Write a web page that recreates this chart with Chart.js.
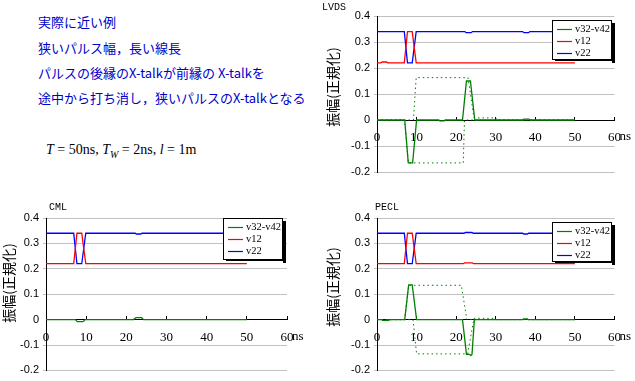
<!DOCTYPE html>
<html lang="ja">
<head>
<meta charset="utf-8">
<script src="https://cdn.jsdelivr.net/npm/chart.js@4.4.0/dist/chart.umd.min.js"></script>
<style>
  html, body { margin: 0; padding: 0; background: #fff; }
  body { width: 635px; height: 381px; position: relative; overflow: hidden; }
  .memo { position: absolute; left: 38px; color: #0000c8; font-size: 13px; font-family: "Noto Sans CJK JP"; white-space: nowrap; line-height: 16px; }
  .formula { position: absolute; left: 46px; top: 142px; font-size: 14px; font-family: "Liberation Serif"; white-space: nowrap; }
  .formula sub { font-size: 10px; }
  .box { position: absolute; }
</style>
</head>
<body>
<div class="memo" style="top:14px">実際に近い例</div>
<div class="memo" style="top:40px">狭いパルス幅，長い線長</div>
<div class="memo" style="top:65px">パルスの後縁のX-talkが前縁の X-talkを</div>
<div class="memo" style="top:90px">途中から打ち消し，狭いパルスのX-talkとなる</div>
<div class="formula"><i>T</i> = 50ns, <i>T<sub>W</sub></i> = 2ns, <i>l</i> = 1m</div>

<div class="box" style="left:320px;top:0;width:315px;height:190px"><canvas id="chartLVDS"></canvas></div>
<div class="box" style="left:0;top:190px;width:315px;height:191px"><canvas id="chartCML"></canvas></div>
<div class="box" style="left:320px;top:190px;width:315px;height:191px"><canvas id="chartPECL"></canvas></div>

<script>
// Ejes y etiquetas
const xTickVals = [0, 10, 20, 30, 40, 50, 60];
const xTickLabels = ['0', '10', '20', '30', '40', '50', '60'];
const yTickVals = [-0.2, -0.1, 0, 0.1, 0.2, 0.3, 0.4];
const yTickLabels = ['-0.2', '-0.1', '0', '0.1', '0.2', '0.3', '0.4'];
const legendLabels = ['v32-v42', 'v12', 'v22'];
const yTitle = '振幅(正規化)';

// LVDS
const lvdsDiffT = [0, 7.0, 7.9, 9.0, 10.0, 15.6, 15.8, 17.0, 17.2, 21.6, 22.6, 23.6, 24.7, 36.9, 37.1, 38.4, 38.6, 50];
const lvdsDiffY = [0, 0, -0.165, -0.165, 0, 0, -0.003, -0.003, 0, 0, 0.15, 0.15, 0, 0, 0.003, 0.003, 0, 0];
const lvdsV12T = [0, 1.0, 1.3, 2.4, 2.7, 6.9, 7.7, 8.9, 9.9, 50];
const lvdsV12Y = [0.22, 0.22, 0.223, 0.223, 0.22, 0.22, 0.34, 0.34, 0.22, 0.22];
const lvdsV22T = [0, 6.9, 7.7, 8.9, 9.9, 22.2, 22.5, 23.8, 24.1, 36.8, 37.1, 38.3, 38.6, 50];
const lvdsV22Y = [0.34, 0.34, 0.22, 0.22, 0.34, 0.34, 0.336, 0.336, 0.34, 0.34, 0.336, 0.336, 0.34, 0.34];
const lvdsDotAT = [0, 7.0, 7.9, 21.8, 22.1, 50];
const lvdsDotAY = [0, 0, -0.165, -0.165, 0, 0];
const lvdsDotBT = [0, 9.2, 9.9, 23.0, 24.5, 30.0, 30.3, 50];
const lvdsDotBY = [0, 0, 0.163, 0.163, 0.008, 0.008, 0, 0];

// CML
const cmlDiffT = [0, 7.3, 7.8, 9.2, 9.8, 21.8, 22.4, 23.8, 24.3, 50];
const cmlDiffY = [0, 0, -0.008, -0.008, 0, 0, 0.008, 0.008, 0, 0];
const cmlV12T = [0, 6.9, 7.7, 8.9, 9.9, 50];
const cmlV12Y = [0.22, 0.22, 0.34, 0.34, 0.22, 0.22];
const cmlV22T = [0, 6.9, 7.7, 8.9, 9.9, 22.2, 22.5, 23.6, 23.9, 50];
const cmlV22Y = [0.34, 0.34, 0.22, 0.22, 0.34, 0.34, 0.337, 0.337, 0.34, 0.34];

// PECL
const peclDiffT = [0, 1.2, 1.4, 2.8, 3.0, 7.0, 8.0, 8.9, 10.0, 21.6, 22.6, 23.4, 23.7, 24.0, 24.6, 36.8, 37.0, 38.0, 38.2, 50];
const peclDiffY = [0, 0, -0.003, -0.003, 0, 0, 0.137, 0.137, 0, 0, -0.137, -0.137, -0.142, -0.137, 0, 0, 0.003, 0.003, 0, 0];
const peclV12T = [0, 6.9, 7.7, 8.9, 9.9, 21.8, 22.1, 24.1, 24.4, 50];
const peclV12Y = [0.22, 0.22, 0.34, 0.34, 0.22, 0.22, 0.223, 0.223, 0.22, 0.22];
const peclV22T = [0, 6.9, 7.7, 8.9, 9.9, 22.0, 22.3, 24.0, 24.3, 36.8, 37.1, 38.0, 38.3, 50];
const peclV22Y = [0.34, 0.34, 0.22, 0.22, 0.34, 0.34, 0.343, 0.343, 0.34, 0.34, 0.337, 0.337, 0.34, 0.34];
const peclDotAT = [0, 7.0, 8.0, 21.3, 22.7, 50];
const peclDotAY = [0, 0, 0.135, 0.135, 0, 0];
const peclDotBT = [0, 9.1, 10.0, 22.9, 24.5, 29.5, 29.8, 50];
const peclDotBY = [0, 0, -0.135, -0.135, 0.005, 0.005, 0, 0];

const GREEN = '#008000';
const RED = '#ff0000';
const BLUE = '#0000ff';
const GRID = '#c0c0c0';
const legendColors = [GREEN, RED, BLUE];

function puntos(t, v) {
    return t.map((x, i) => ({ x: x, y: v[i] }));
}

// Título, etiqueta del eje Y, "ns" y leyenda con sombra
const decorPlugin = {
    id: 'decor',
    afterDraw(chart, args, opts) {
        const ctx = chart.ctx;
        const xs = chart.scales.x;
        const ys = chart.scales.y;
        ctx.save();
        ctx.setLineDash([]);
        ctx.fillStyle = '#000';
        ctx.textBaseline = 'middle';
        ctx.textAlign = 'left';
        ctx.font = '10px "Liberation Mono"';
        ctx.fillText(opts.title, opts.titleX, opts.titleY);

        ctx.font = '13px "Liberation Serif"';
        ctx.fillText('ns', xs.getPixelForValue(60) + 5, ys.getPixelForValue(0) + 17);

        ctx.save();
        ctx.translate(opts.yTitleX, opts.yTitleY);
        ctx.rotate(-Math.PI / 2);
        ctx.textAlign = 'center';
        ctx.font = '14px "Noto Sans CJK JP"';
        ctx.fillText(yTitle, 0, 0);
        ctx.restore();

        // leyenda
        const lg = opts.legend;
        ctx.fillStyle = '#000';
        ctx.fillRect(lg.x + lg.w, lg.y + 3, 3, lg.h);
        ctx.fillRect(lg.x + 3, lg.y + lg.h, lg.w, 1);
        ctx.fillStyle = '#fff';
        ctx.fillRect(lg.x, lg.y, lg.w, lg.h);
        ctx.strokeStyle = '#000';
        ctx.lineWidth = 1;
        ctx.strokeRect(lg.x + 0.5, lg.y + 0.5, lg.w - 1, lg.h - 1);
        ctx.font = '10.5px "Liberation Serif"';
        legendLabels.forEach((label, i) => {
            const y = Math.round(lg.y + 9 + i * 12) + 0.5;
            ctx.strokeStyle = legendColors[i];
            ctx.lineWidth = 1.2;
            ctx.beginPath();
            ctx.moveTo(lg.x + 5, y);
            ctx.lineTo(lg.x + 20, y);
            ctx.stroke();
            ctx.fillStyle = '#000';
            ctx.fillText(label, lg.x + 23, y);
        });
        ctx.restore();
    }
};

function crearGrafica(id, series, look) {
    const datasets = series.map(s => ({
        label: s.label,
        data: puntos(s.t, s.v),
        borderColor: s.color,
        borderWidth: s.dotted ? 1 : 1.3,
        borderDash: s.dotted ? [1.5, 3] : [],
        pointRadius: 0,
        tension: 0,
        fill: false
    }));

    new Chart(document.getElementById(id), {
        type: 'line',
        data: { datasets: datasets },
        options: {
            responsive: true,
            maintainAspectRatio: false,
            animation: false,
            layout: { padding: look.padding },
            plugins: {
                legend: { display: false },
                tooltip: { enabled: false },
                decor: look
            },
            scales: {
                x: {
                    type: 'linear',
                    position: { y: 0 },
                    min: 0,
                    max: 60,
                    afterBuildTicks: s => { s.ticks = xTickVals.map(v => ({ value: v })); },
                    ticks: {
                        callback: (v, i) => xTickLabels[i],
                        color: '#000',
                        padding: 14,
                        maxRotation: 0,
                        autoSkip: false,
                        font: { family: 'Liberation Serif', size: 13 }
                    },
                    grid: { drawOnChartArea: false, drawTicks: true, tickLength: -4, color: '#000' },
                    border: { display: true, color: '#000', width: 1 }
                },
                y: {
                    type: 'linear',
                    position: 'left',
                    min: -0.2,
                    max: 0.4,
                    afterBuildTicks: s => { s.ticks = yTickVals.map(v => ({ value: v })); },
                    afterFit: s => { s.width = look.yWidth; },
                    ticks: {
                        callback: (v, i) => yTickLabels[i],
                        color: '#000',
                        padding: 4,
                        font: { family: 'Liberation Sans', size: 11 }
                    },
                    grid: {
                        color: c => (c.tick && c.tick.value === 0) ? 'rgba(0,0,0,0)' : GRID,
                        tickLength: 3
                    },
                    border: { display: true, color: '#000', width: 1 }
                }
            }
        },
        plugins: [decorPlugin]
    });
}

crearGrafica('chartLVDS', [
    { label: legendLabels[0], t: lvdsDiffT, v: lvdsDiffY, color: GREEN },
    { label: legendLabels[1], t: lvdsV12T, v: lvdsV12Y, color: RED },
    { label: legendLabels[2], t: lvdsV22T, v: lvdsV22Y, color: BLUE },
    { label: '', t: lvdsDotAT, v: lvdsDotAY, color: GREEN, dotted: true },
    { label: '', t: lvdsDotBT, v: lvdsDotBY, color: GREEN, dotted: true }
], {
    padding: { top: 16, bottom: 18, right: 20, left: 0 },
    yWidth: 57,
    title: 'LVDS', titleX: 2, titleY: 7,
    yTitleX: 13, yTitleY: 87,
    legend: { x: 232, y: 20, w: 60, h: 40 }
});

crearGrafica('chartCML', [
    { label: legendLabels[0], t: cmlDiffT, v: cmlDiffY, color: GREEN },
    { label: legendLabels[1], t: cmlV12T, v: cmlV12Y, color: RED },
    { label: legendLabels[2], t: cmlV22T, v: cmlV22Y, color: BLUE }
], {
    padding: { top: 28, bottom: 8, right: 28, left: 0 },
    yWidth: 46,
    title: 'CML', titleX: 49, titleY: 17,
    yTitleX: 9, yTitleY: 93,
    legend: { x: 223, y: 28, w: 60, h: 42 }
});

crearGrafica('chartPECL', [
    { label: legendLabels[0], t: peclDiffT, v: peclDiffY, color: GREEN },
    { label: legendLabels[1], t: peclV12T, v: peclV12Y, color: RED },
    { label: legendLabels[2], t: peclV22T, v: peclV22Y, color: BLUE },
    { label: '', t: peclDotAT, v: peclDotAY, color: GREEN, dotted: true },
    { label: '', t: peclDotBT, v: peclDotBY, color: GREEN, dotted: true }
], {
    padding: { top: 28, bottom: 8, right: 20, left: 0 },
    yWidth: 57,
    title: 'PECL', titleX: 55, titleY: 17,
    yTitleX: 13, yTitleY: 97,
    legend: { x: 232, y: 32, w: 60, h: 40 }
});
</script>
</body>
</html>
